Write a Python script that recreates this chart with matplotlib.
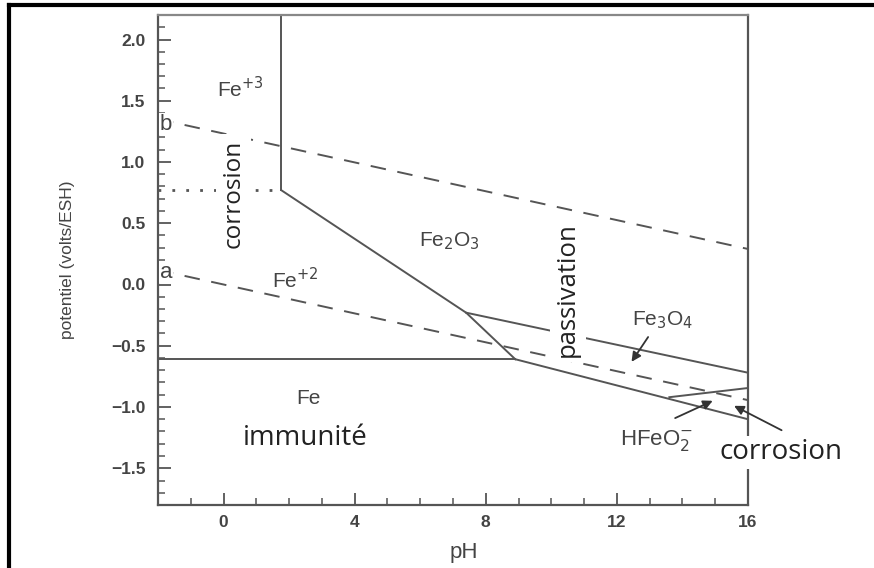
import numpy as np
import matplotlib
matplotlib.use("Agg")
import matplotlib.pyplot as plt
from matplotlib.lines import Line2D

plt.rcParams['font.family'] = ['Liberation Sans', 'DejaVu Sans']

# Pourbaix diagram of iron - boundary lines (pH, E in volts/ESH)
fe3_fe2o3_ph = [1.76, 1.76]
fe3_fe2o3_e = [0.77, 2.2]
fe3_fe2_ph = [-2.0, 1.76]
fe3_fe2_e = [0.77, 0.77]
fe2_fe2o3_ph = [1.76, 7.4, 8.9]
fe2_fe2o3_e = [0.77, -0.23, -0.61]
fe_fe2_ph = [-2.0, 8.9]
fe_fe2_e = [-0.61, -0.61]
fe2o3_fe3o4_ph = [7.4, 16.0]
fe2o3_fe3o4_e = [-0.23, -0.72]
fe3o4_fe_ph = [8.9, 16.0]
fe3o4_fe_e = [-0.61, -1.1]
fe3o4_hfeo2_ph = [13.6, 16.0]
fe3o4_hfeo2_e = [-0.92, -0.845]

# water stability lines
water_ph = [-2.0, 16.0]
line_b_e = [1.35, 0.29]
line_a_e = [0.118, -0.944]

xticks = [0, 4, 8, 12, 16]
yticks = [-1.5, -1.0, -0.5, 0.0, 0.5, 1.0, 1.5, 2.0]

gray = "#555555"
txt = "#444444"

fig = plt.figure(figsize=(8.74, 5.68), dpi=100)
ax = fig.add_axes([158 / 874, 1 - 505 / 568, 590 / 874, 490 / 568])

lw = 1.4
ax.plot(fe3_fe2o3_ph, fe3_fe2o3_e, color=gray, lw=lw)
ax.plot(fe3_fe2_ph, fe3_fe2_e, color=gray, lw=2, ls=(0, (1, 4)))
ax.plot(fe2_fe2o3_ph, fe2_fe2o3_e, color=gray, lw=lw)
ax.plot(fe_fe2_ph, fe_fe2_e, color=gray, lw=lw)
ax.plot(fe2o3_fe3o4_ph, fe2o3_fe3o4_e, color=gray, lw=lw)
ax.plot(fe3o4_fe_ph, fe3o4_fe_e, color=gray, lw=lw)
ax.plot(fe3o4_hfeo2_ph, fe3o4_hfeo2_e, color=gray, lw=lw)
ax.plot(water_ph, line_b_e, color=gray, lw=lw, ls=(0, (8, 6)))
ax.plot(water_ph, line_a_e, color=gray, lw=lw, ls=(0, (8, 6)))

ax.set_xlim(-2, 16)
ax.set_ylim(-1.8, 2.2)
ax.set_xticks(xticks)
ax.set_yticks(yticks)
ax.set_yticklabels(["\u22121.5", "\u22121.0", "\u22120.5", "0.0", "0.5", "1.0", "1.5", "2.0"])
ax.set_xticks(np.arange(-1, 16, 1), minor=True)
ax.set_yticks(np.arange(-1.7, 2.2, 0.1), minor=True)
ax.tick_params(which="major", direction="in", length=9, width=1.3, color=gray,
               labelcolor=txt, labelsize=12.5, pad=7)
ax.tick_params(which="minor", direction="in", length=5, width=1.1, color=gray)
ax.tick_params(axis="y", pad=9)
for lab in ax.get_xticklabels() + ax.get_yticklabels():
    lab.set_fontweight("bold")
for s in ax.spines.values():
    s.set_color(gray)
    s.set_linewidth(1.6)
ax.spines["top"].set_color("#888888")

ax.set_xlabel("pH", fontsize=16, color=txt, labelpad=2)
ax.xaxis.set_label_coords((464 - 158) / 590, -0.075)
ax.set_ylabel("potentiel (volts/ESH)", fontsize=12.5, color=txt)
ax.yaxis.set_label_coords(-(158 - 75) / 590, 0.5)

# region labels
ax.text(0.5, 1.6, "Fe$^{+3}$", fontsize=15, color=txt, ha="center", va="center")
ax.text(2.2, 0.04, "Fe$^{+2}$", fontsize=15, color=txt, ha="center", va="center")
ax.text(6.9, 0.35, "Fe$_2$O$_3$", fontsize=15, color=txt, ha="center", va="center")
ax.text(13.4, -0.29, "Fe$_3$O$_4$", fontsize=15, color=txt, ha="center", va="center")
ax.text(13.2, -1.27, "HFeO$_2^{-}$", fontsize=16, color=txt, ha="center", va="center")
ax.text(2.6, -0.93, "Fe", fontsize=15, color=txt, ha="center", va="center")
ax.text(2.5, -1.25, "immunit\u00e9", fontsize=20, color="#222222", ha="center", va="center",
        family="Open Sans")
ax.text(0.3, 0.74, "corrosion", fontsize=17.5, color="#222222", ha="center", va="center",
        rotation=90, family="Open Sans",
        bbox=dict(facecolor="white", edgecolor="none", pad=4))
ax.text(10.5, -0.04, "passivation", fontsize=18.5, color="#222222", ha="center", va="center",
        rotation=90, family="Open Sans",
        bbox=dict(facecolor="white", edgecolor="none", pad=4))
ax.text(-1.95, 1.31, "b", fontsize=16, color=txt, ha="left", va="center",
        bbox=dict(facecolor="white", edgecolor="none", pad=0.5))
ax.text(-1.95, 0.1, "a", fontsize=16, color=txt, ha="left", va="center",
        bbox=dict(facecolor="white", edgecolor="none", pad=0.5))
ax.text(17.0, -1.37, "corrosion", fontsize=20, color="#222222", ha="center", va="center",
        family="Open Sans", clip_on=False,
        bbox=dict(facecolor="white", edgecolor="none", pad=2), zorder=5)

arr = dict(arrowstyle="-|>", color="#333333", lw=1.3, mutation_scale=14)
ax.annotate("", xy=(12.4, -0.65), xytext=(13.0, -0.41), arrowprops=arr)
ax.annotate("", xy=(15.0, -0.94), xytext=(13.7, -1.1), arrowprops=arr)
ax.annotate("", xy=(15.5, -0.98), xytext=(17.1, -1.2), arrowprops=arr,
            annotation_clip=False, zorder=6)

# image frame (top and left edges)
fig.add_artist(Line2D([9 / 874, 1], [1 - 5 / 568, 1 - 5 / 568], color="black", lw=3,
                      transform=fig.transFigure))
fig.add_artist(Line2D([9 / 874, 9 / 874], [0, 1 - 5 / 568], color="black", lw=3,
                      transform=fig.transFigure))

fig.savefig("out.png", dpi=100)
